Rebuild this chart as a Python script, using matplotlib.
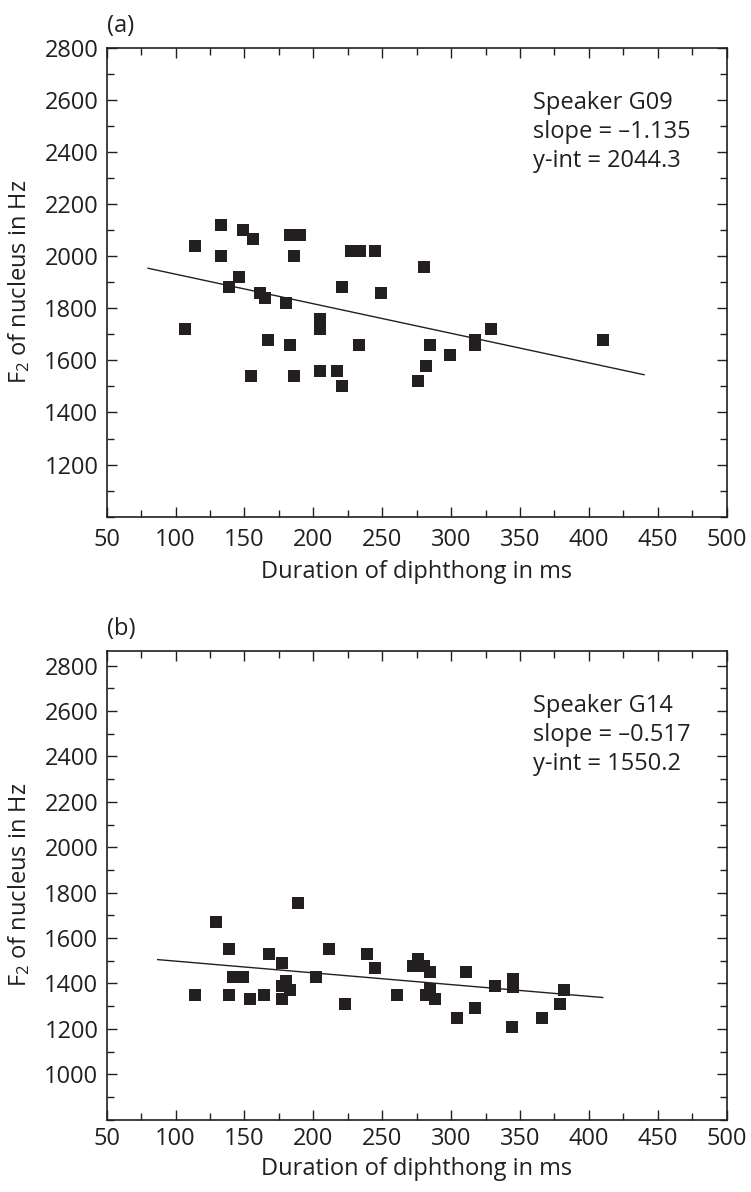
import matplotlib
matplotlib.use("Agg")
import matplotlib.pyplot as plt
from matplotlib.ticker import MultipleLocator, FixedLocator

plt.rcParams['font.family'] = ['Open Sans', 'DejaVu Sans']
plt.rcParams['mathtext.default'] = 'regular'

INK = '#231f20'

# ---- Panel (a): Speaker G09 ----
a_dur = [114, 133, 133, 149, 156, 183, 190, 186, 107, 146, 139, 161, 165, 180,
         205, 205, 167, 183, 221, 233, 227, 234, 245, 249, 155, 186, 205, 217,
         221, 280, 285, 299, 317, 317, 329, 282, 276, 410]
a_f2 = [2040, 2120, 2000, 2100, 2065, 2080, 2080, 2000, 1720, 1920, 1880, 1860,
        1840, 1820, 1760, 1720, 1680, 1660, 1880, 1660, 2020, 2020, 2020, 1860,
        1540, 1540, 1560, 1560, 1500, 1960, 1660, 1620, 1680, 1660, 1720, 1580,
        1520, 1680]
a_slope, a_int = -1.135, 2044.3
a_fit_range = [80, 440]
a_text = ["Speaker G09", "slope = \u20131.135", "y-int = 2044.3"]

# ---- Panel (b): Speaker G14 ----
b_dur = [129, 189, 139, 168, 211, 177, 142, 149, 202, 180, 177, 183, 114, 139,
         154, 164, 177, 223, 239, 245, 261, 276, 272, 280, 285, 285, 282, 288,
         311, 304, 317, 332, 345, 345, 344, 366, 382, 379]
b_f2 = [1670, 1755, 1550, 1530, 1550, 1490, 1430, 1430, 1430, 1410, 1390, 1370,
        1350, 1350, 1330, 1350, 1330, 1310, 1530, 1470, 1350, 1510, 1475, 1475,
        1450, 1375, 1350, 1330, 1450, 1250, 1290, 1390, 1420, 1385, 1210, 1250,
        1370, 1310]
b_slope, b_int = -0.517, 1550.2
b_fit_range = [87, 410]
b_text = ["Speaker G14", "slope = \u20130.517", "y-int = 1550.2"]

x_ticks = [50, 100, 150, 200, 250, 300, 350, 400, 450, 500]
a_yticks = [1200, 1400, 1600, 1800, 2000, 2200, 2400, 2600, 2800]
b_yticks = [1000, 1200, 1400, 1600, 1800, 2000, 2200, 2400, 2600, 2800]

FS = 17

fig = plt.figure(figsize=(7.51, 11.92), dpi=100)
W, H = 751, 1192
left, right = 106.7, 726.7

def make_axes(top, bottom):
    return fig.add_axes([left / W, 1 - bottom / H, (right - left) / W, (bottom - top) / H])

ax_a = make_axes(47.7, 516.7)
ax_b = make_axes(650.7, 1119.7)

panels = [
    (ax_a, a_dur, a_f2, a_slope, a_int, a_fit_range, a_text, (1000, 2800), a_yticks, "(a)", 8),
    (ax_b, b_dur, b_f2, b_slope, b_int, b_fit_range, b_text, (800, 2866), b_yticks, "(b)", 5),
]

for ax, xs, ys, sl, it, fr, txt, ylim, yt, lab, xpad in panels:
    ax.plot(xs, ys, linestyle='none', marker='s', markersize=8.2,
            color=INK, markeredgewidth=0, zorder=3)
    fx = list(fr)
    fy = [it + sl * v for v in fx]
    ax.plot(fx, fy, color=INK, linewidth=1.0, zorder=2)

    ax.set_xlim(50, 500)
    ax.set_ylim(*ylim)
    ax.xaxis.set_major_locator(FixedLocator(x_ticks))
    ax.xaxis.set_minor_locator(MultipleLocator(25))
    ax.yaxis.set_major_locator(FixedLocator(yt))
    ax.yaxis.set_minor_locator(MultipleLocator(100))

    ax.tick_params(which='both', direction='in', top=True, right=True,
                   color=INK, width=1.0, labelcolor=INK, labelsize=FS)
    ax.tick_params(which='major', length=7)
    ax.tick_params(which='minor', length=5)
    ax.tick_params(axis='y', which='major', pad=6)
    ax.tick_params(axis='x', which='major', pad=xpad)
    for s in ax.spines.values():
        s.set_linewidth(1.2)
        s.set_color(INK)

    ax.set_xlabel("Duration of diphthong in ms", fontsize=FS, color=INK)
    ax.set_ylabel("F$_{2}$ of nucleus in Hz", fontsize=FS, color=INK)
    ax.yaxis.set_label_coords(-0.12, 0.5)

    for yy, t in zip([0.870, 0.807, 0.745], txt):
        ax.text(0.687, yy, t, transform=ax.transAxes, fontsize=FS, color=INK,
                ha='left', va='baseline')
    ax.text(0.0, 1.034, lab, transform=ax.transAxes, fontsize=FS, color=INK,
            ha='left', va='baseline')

ax_a.xaxis.set_label_coords(0.5, -0.092)
ax_b.xaxis.set_label_coords(0.5, -0.079)

fig.savefig("out.png", dpi=100)
